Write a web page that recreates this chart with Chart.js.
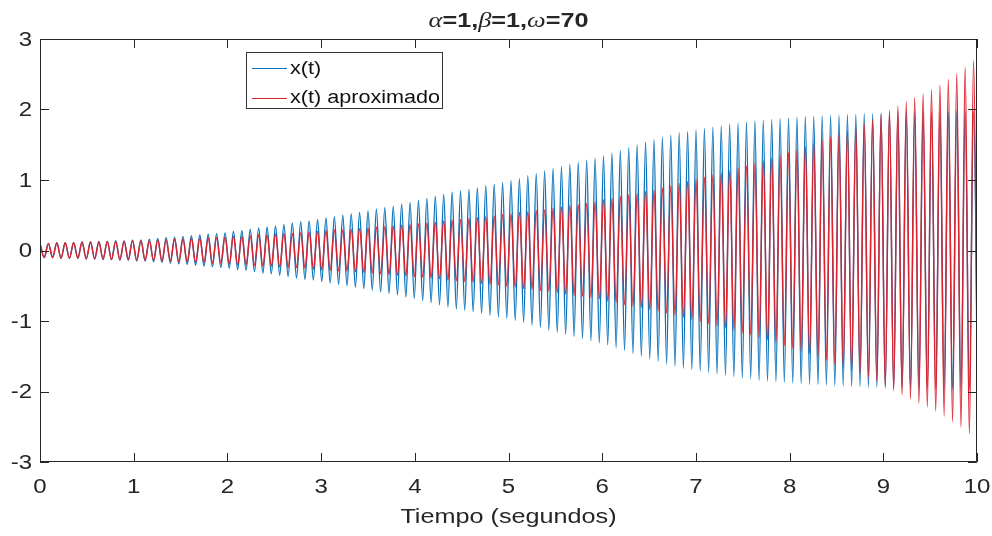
<!DOCTYPE html>
<html>
<head>
<meta charset="utf-8">
<script src="https://cdn.jsdelivr.net/npm/chart.js"></script>
<style>
  body { margin: 0; background: #fff; }
  canvas { display: block; }
</style>
</head>
<body>
<canvas id="myChart" width="992" height="536"></canvas>
<script>
// one oscillation period for w = 70 rad/s
const period = 2 * Math.PI / 70;

// amplitude of each cycle
const amplitudeExact = [
  0.10, 0.10, 0.11, 0.11, 0.11, 0.12, 0.12, 0.13, 0.13, 0.14, 0.14, 0.15,
  0.15, 0.16, 0.17, 0.18, 0.19, 0.20, 0.21, 0.22, 0.23, 0.24, 0.25,
  0.27, 0.28, 0.30, 0.32, 0.33, 0.35, 0.37, 0.39, 0.41, 0.42, 0.44,
  0.46, 0.48, 0.50, 0.52, 0.54, 0.56, 0.59, 0.61, 0.63, 0.66, 0.68,
  0.71, 0.74, 0.77, 0.80, 0.83, 0.85, 0.87, 0.89, 0.92, 0.94, 0.96,
  0.99, 1.02, 1.06, 1.09, 1.13, 1.16, 1.19, 1.22, 1.25, 1.28, 1.31,
  1.34, 1.38, 1.42, 1.46, 1.50, 1.54, 1.57, 1.61, 1.64, 1.67, 1.69,
  1.71, 1.73, 1.75, 1.77, 1.79, 1.81, 1.82, 1.84, 1.85, 1.86, 1.87,
  1.88, 1.89, 1.90, 1.90, 1.91, 1.92, 1.92, 1.93, 1.93, 1.94, 1.94,
  1.95, 1.95, 1.96, 1.96, 1.96, 1.97, 1.97, 1.97, 1.97, 1.98, 1.98, 1.98
];

const amplitudeApprox = [
  0.10, 0.10, 0.11, 0.11, 0.11, 0.12, 0.12, 0.12, 0.13, 0.13, 0.13, 0.14,
  0.14, 0.14, 0.15, 0.15, 0.16, 0.16, 0.17, 0.17, 0.18, 0.18, 0.19,
  0.20, 0.20, 0.21, 0.22, 0.22, 0.23, 0.24, 0.24, 0.25, 0.26, 0.27,
  0.28, 0.29, 0.29, 0.30, 0.31, 0.32, 0.33, 0.34, 0.35, 0.36, 0.37,
  0.38, 0.39, 0.40, 0.42, 0.43, 0.44, 0.45, 0.47, 0.48, 0.49, 0.51,
  0.52, 0.54, 0.55, 0.57, 0.58, 0.60, 0.62, 0.64, 0.65, 0.67, 0.69,
  0.72, 0.74, 0.77, 0.79, 0.81, 0.84, 0.86, 0.89, 0.92, 0.95, 0.98,
  1.01, 1.04, 1.07, 1.10, 1.13, 1.17, 1.20, 1.24, 1.27, 1.31, 1.35,
  1.39, 1.43, 1.47, 1.52, 1.56, 1.61, 1.65, 1.70, 1.75, 1.80, 1.86,
  1.93, 1.99, 2.05, 2.11, 2.17, 2.22, 2.28, 2.35, 2.43, 2.51, 2.60, 2.70
];

const xTicks = [0, 1, 2, 3, 4, 5, 6, 7, 8, 9, 10];
const yTicks = [-3, -2, -1, 0, 1, 2, 3];

const blue = "rgb(10,114,186)";
const red = "rgb(222,34,44)";
const axisColor = "#262626";
const stretch = 1.2;

// every cycle gives a crest and a trough
function buildSeries(amplitudes) {
  let points = [];
  for (let k = 0; k < amplitudes.length; k++) {
    points.push({ x: k * period, y: amplitudes[k] });
    points.push({ x: (k + 0.5) * period, y: -amplitudes[k] });
  }
  return points;
}

function stretchedText(ctx, text, x, y, align) {
  ctx.save();
  ctx.translate(x, y);
  ctx.scale(stretch, 1);
  ctx.textAlign = align;
  ctx.fillText(text, 0, 0);
  ctx.restore();
}

const matlabAxes = {
  id: "matlabAxes",
  afterDatasetsDraw(chart) {
    const ctx = chart.ctx;
    const a = chart.chartArea;
    const xs = chart.scales.x;
    const ys = chart.scales.y;
    ctx.save();
    ctx.strokeStyle = axisColor;
    ctx.lineWidth = 1;
    ctx.beginPath();
    ctx.rect(a.left + 0.5, a.top + 0.5, a.right - a.left - 1, a.bottom - a.top - 1);
    xTicks.forEach((t) => {
      let px = Math.round(xs.getPixelForValue(t)) + 0.5;
      ctx.moveTo(px, a.bottom);
      ctx.lineTo(px, a.bottom - 9);
      ctx.moveTo(px, a.top);
      ctx.lineTo(px, a.top + 9);
    });
    yTicks.forEach((t) => {
      let py = Math.round(ys.getPixelForValue(t)) + 0.5;
      ctx.moveTo(a.left, py);
      ctx.lineTo(a.left + 9, py);
      ctx.moveTo(a.right, py);
      ctx.lineTo(a.right - 9, py);
    });
    ctx.stroke();

    // tick labels
    ctx.fillStyle = axisColor;
    ctx.font = '20px "Liberation Sans", Arial, sans-serif';
    ctx.textBaseline = "middle";
    xTicks.forEach((t) => {
      stretchedText(ctx, String(t), xs.getPixelForValue(t), a.bottom + 25, "center");
    });
    yTicks.forEach((t) => {
      stretchedText(ctx, String(t), a.left - 8, ys.getPixelForValue(t) + 1, "right");
    });

    // axis label
    ctx.font = '21px "Liberation Sans", Arial, sans-serif';
    ctx.textBaseline = "alphabetic";
    stretchedText(ctx, "Tiempo (segundos)", (a.left + a.right) / 2, 523, "center");

    // title with greek letters in italic
    const parts = [
      ["\u03b1", 'italic 22px "Liberation Serif", serif'],
      ["=1,", 'bold 21px "Liberation Sans", Arial, sans-serif'],
      ["\u03b2", 'italic 22px "Liberation Serif", serif'],
      ["=1,", 'bold 21px "Liberation Sans", Arial, sans-serif'],
      ["\u03c9", 'italic 22px "Liberation Serif", serif'],
      ["=70", 'bold 21px "Liberation Sans", Arial, sans-serif'],
    ];
    let total = 0;
    parts.forEach((p) => {
      ctx.font = p[1];
      total += ctx.measureText(p[0]).width * stretch;
    });
    let x = (a.left + a.right) / 2 - total / 2;
    parts.forEach((p) => {
      ctx.font = p[1];
      stretchedText(ctx, p[0], x, 27, "left");
      x += ctx.measureText(p[0]).width * stretch;
    });

    // legend box
    ctx.fillStyle = "#fff";
    ctx.fillRect(246, 52, 196, 56);
    ctx.strokeStyle = "#333";
    ctx.strokeRect(246.5, 52.5, 196, 56);
    ctx.lineWidth = 1.2;
    ctx.strokeStyle = blue;
    ctx.beginPath();
    ctx.moveTo(252, 68.5);
    ctx.lineTo(287, 68.5);
    ctx.stroke();
    ctx.strokeStyle = red;
    ctx.beginPath();
    ctx.moveTo(252, 98.5);
    ctx.lineTo(287, 98.5);
    ctx.stroke();
    ctx.fillStyle = "#111";
    ctx.font = '18px "Liberation Sans", Arial, sans-serif';
    ctx.textBaseline = "middle";
    stretchedText(ctx, "x(t)", 290, 69, "left");
    stretchedText(ctx, "x(t) aproximado", 290, 98, "left");
    ctx.restore();
  },
};

const ctx = document.getElementById("myChart");
const myChart = new Chart(ctx, {
  type: "line",
  data: {
    datasets: [
      {
        label: "x(t)",
        data: buildSeries(amplitudeExact),
        borderColor: blue,
        borderWidth: 1.4,
        pointRadius: 0,
        cubicInterpolationMode: "monotone",
        order: 2,
      },
      {
        label: "x(t) aproximado",
        data: buildSeries(amplitudeApprox),
        borderColor: red,
        borderWidth: 1.4,
        pointRadius: 0,
        cubicInterpolationMode: "monotone",
        order: 1,
      },
    ],
  },
  options: {
    responsive: false,
    animation: false,
    layout: { padding: { top: 39, right: 15, left: 0, bottom: 0 } },
    plugins: {
      legend: { display: false },
      title: { display: false },
      tooltip: { enabled: false },
    },
    scales: {
      x: {
        type: "linear",
        min: 0,
        max: 10,
        ticks: { display: false },
        grid: { display: false },
        border: { display: false },
        afterFit: (s) => { s.height = 74; },
      },
      y: {
        min: -3,
        max: 3,
        ticks: { display: false },
        grid: { display: false },
        border: { display: false },
        afterFit: (s) => { s.width = 40; },
      },
    },
  },
  plugins: [matlabAxes],
});
</script>
</body>
</html>
